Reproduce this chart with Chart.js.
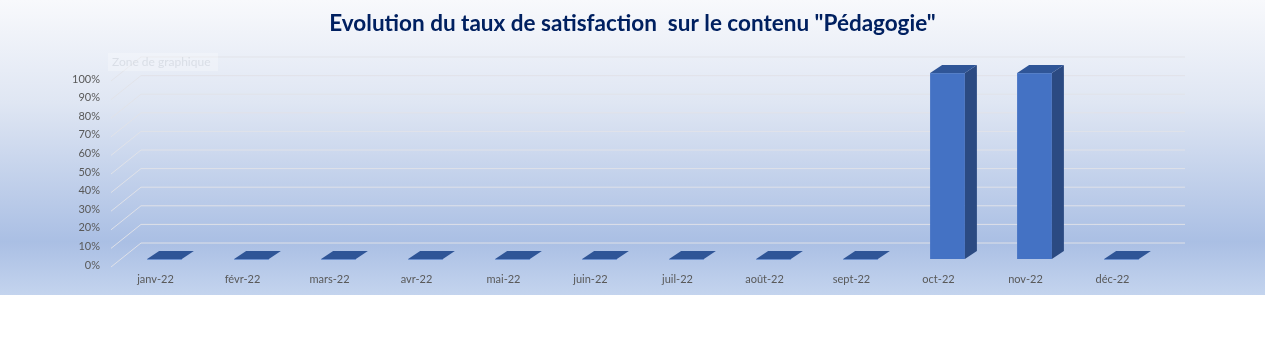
<!DOCTYPE html>
<html>
<head>
<meta charset="utf-8">
<script src="https://cdn.jsdelivr.net/npm/chart.js@4.4.1/dist/chart.umd.min.js"></script>
<style>
  body { margin: 0; background: #fff; }
  #wrap {
    width: 1265px; height: 295px;
    background: linear-gradient(180deg, #f8f9fc 0%, #dfe6f3 35%, #aabfe4 82%, #c4d4ee 100%);
  }
  canvas { display: block; }
</style>
</head>
<body>
<div id="wrap"><canvas id="chart" width="1265" height="295"></canvas></div>
<script>
const months = ['janv-22', 'févr-22', 'mars-22', 'avr-22', 'mai-22', 'juin-22',
                'juil-22', 'août-22', 'sept-22', 'oct-22', 'nov-22', 'déc-22']
const satisfaction = [0, 0, 0, 0, 0, 0, 0, 0, 0, 1, 1, 0]
const yTicks = [0, 0.1, 0.2, 0.3, 0.4, 0.5, 0.6, 0.7, 0.8, 0.9, 1]
const chartTitle = 'Evolution du taux de satisfaction  sur le contenu "Pédagogie"'

// fake excel 3d look: back wall grid + side/top faces of the bars
const depth3d = {
    id: 'depth3d',
    beforeDatasetsDraw(chart) {
        const ctx = chart.ctx
        const a = chart.chartArea
        const y = chart.scales.y
        ctx.save()
        ctx.strokeStyle = 'rgba(225,227,232,0.95)'
        ctx.lineWidth = 1
        yTicks.forEach(v => {
            const py = y.getPixelForValue(v)
            ctx.beginPath()
            ctx.moveTo(a.left - 10, py + 8)
            ctx.lineTo(a.left + 20, py - 16)
            ctx.lineTo(a.right + 20, py - 16)
            ctx.stroke()
        })
        ctx.restore()
    },
    afterDatasetsDraw(chart) {
        const ctx = chart.ctx
        const dx = 12, dy = -8
        ctx.save()
        chart.getDatasetMeta(0).data.forEach(bar => {
            const l = bar.x - bar.width / 2
            const r = bar.x + bar.width / 2
            const top = bar.y, base = bar.base
            // side
            if (base - top > 0.5) {
                ctx.fillStyle = '#2b4a82'
                ctx.beginPath()
                ctx.moveTo(r, top)
                ctx.lineTo(r + dx, top + dy)
                ctx.lineTo(r + dx, base + dy)
                ctx.lineTo(r, base)
                ctx.closePath()
                ctx.fill()
            }
            // top
            ctx.fillStyle = '#2f5597'
            ctx.beginPath()
            ctx.moveTo(l, top)
            ctx.lineTo(r, top)
            ctx.lineTo(r + dx, top + dy)
            ctx.lineTo(l + dx, top + dy)
            ctx.closePath()
            ctx.fill()
            ctx.strokeStyle = 'rgba(90,130,200,0.8)'
            ctx.beginPath()
            ctx.moveTo(l, top + 0.5)
            ctx.lineTo(r, top + 0.5)
            ctx.stroke()
        })
        ctx.restore()
    },
    afterDraw(chart) {
        // leftover excel hover tip
        const ctx = chart.ctx
        const a = chart.chartArea
        ctx.save()
        ctx.fillStyle = 'rgba(255,255,255,0.25)'
        ctx.fillRect(a.left - 13, a.top - 20, 110, 18)
        ctx.fillStyle = 'rgba(200,205,215,0.55)'
        ctx.font = '12px Lato'
        ctx.textBaseline = 'middle'
        ctx.fillText('Zone de graphique', a.left - 9, a.top - 11)
        ctx.restore()
    }
}

const ctx = document.getElementById('chart').getContext('2d')

const chart = new Chart(ctx, {
    type: 'bar',
    data: {
        labels: months,
        datasets: [
            {
                data: satisfaction,
                backgroundColor: '#4472c4',
                borderWidth: 0,
                categoryPercentage: 1,
                barPercentage: 0.4
            }
        ]
    },
    options: {
        responsive: false,
        animation: false,
        layout: { padding: 0 },
        plugins: {
            legend: { display: false },
            tooltip: { enabled: false },
            title: {
                display: true,
                text: chartTitle,
                color: '#002060',
                font: { family: 'Lato', size: 22.5, weight: 'bold' },
                padding: { top: 10, bottom: 36 }
            }
        },
        scales: {
            x: {
                afterFit: scale => { scale.height = 36 },
                grid: { display: false, drawTicks: false },
                border: { display: false },
                ticks: {
                    color: '#595959',
                    font: { family: 'Lato', size: 11 },
                    padding: 14,
                    labelOffset: -9,
                    maxRotation: 0,
                    autoSkip: false
                }
            },
            y: {
                min: 0,
                max: 1,
                afterFit: scale => { scale.width = 121 },
                grid: { display: false, drawTicks: false },
                border: { display: false },
                ticks: {
                    stepSize: 0.1,
                    color: '#595959',
                    font: { family: 'Lato', size: 11 },
                    padding: 21,
                    labelOffset: 6,
                    callback: v => Math.round(v * 100) + '%'
                }
            },
            // empty right side, keeps the plot where excel had it
            yRight: {
                position: 'right',
                afterFit: scale => { scale.width = 100 },
                grid: { display: false, drawTicks: false },
                border: { display: false },
                ticks: { display: false }
            }
        }
    },
    plugins: [depth3d]
})
</script>
</body>
</html>
